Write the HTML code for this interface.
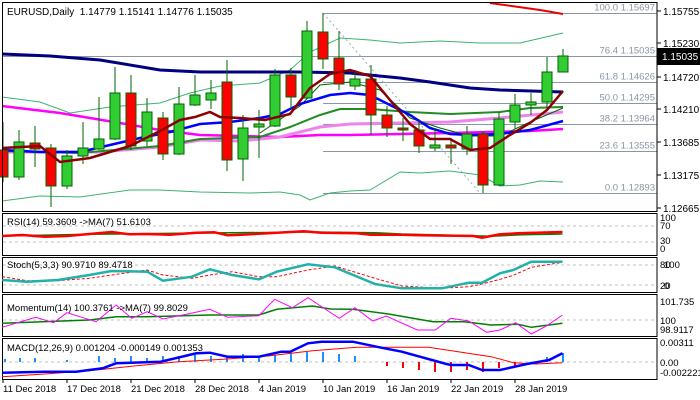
<!DOCTYPE html>
<html><head><meta charset="utf-8"><style>
html,body{margin:0;padding:0;background:#fff;}
svg{display:block;font-family:"Liberation Sans",sans-serif;}
</style></head><body>
<svg id="s" width="700" height="400" xmlns="http://www.w3.org/2000/svg">
<rect width="700" height="400" fill="#fff"/>
<g id="g"></g>
</svg>
<script>
var g=document.getElementById('g');var h='';
function P(pts,col,w,extra){h+='<polyline fill="none" stroke="'+col+'" stroke-width="'+w+'" '+(extra||'')+' points="'+pts.map(function(p){return p[0]+','+p[1]}).join(' ')+'"/>';}
function Z(pts){return pts.map(function(p){return [ (p[0]/2.24).toFixed(1), (p[1]/3+210).toFixed(1)]});}
function T(x,y,t,sz,col,anchor){h+='<text x="'+x+'" y="'+y+'" font-size="'+(sz||10)+'" fill="'+(col||'#000')+'"'+(anchor?' text-anchor="'+anchor+'"':'')+'>'+t+'</text>';}
function L(x1,y1,x2,y2,c,w,d){h+='<line x1="'+x1+'" y1="'+y1+'" x2="'+x2+'" y2="'+y2+'" stroke="'+c+'" stroke-width="'+(w||1)+'"'+(d?' stroke-dasharray="'+d+'"':'')+'/>';}
L(2,56.5,657,56.5,'#8a96a4',1);
var fib=[[13.5,'100.0 1.15697'],[56.5,'76.4 1.15035'],[82.5,'61.8 1.14626'],[103.5,'50.0 1.14295'],[124.5,'38.2 1.13964'],[151.5,'23.6 1.13555'],[193.5,'0.0 1.12893']];
fib.forEach(function(f){L(323,f[0],657,f[0],'#8a96a4',1);T(655,f[0]-3,f[1],9.5,'#8a96a4','end');});
L(323,13,480,193,'#9aa','1','2,3');
P([[2,97],[40,102],[70,113],[110,107],[160,103],[190,93],[220,86],[260,83],[290,70],[310,52],[340,38],[370,40],[400,43],[440,41],[480,43],[520,43],[563,33]],'#3cb371',1);
P([[2,201],[40,196],[80,197],[130,190],[160,190],[200,192],[250,193],[280,192],[300,195],[310,200],[330,193],[350,191],[370,190],[400,172],[420,173],[450,171],[480,175],[500,186],[520,185],[540,181],[563,182]],'#3cb371',1);
P([[490,3],[540,10],[563,14]],'#e00',2);
P([[2,54],[50,56],[100,60],[160,70],[200,72],[260,72],[300,72],[350,73],[400,78],[430,82],[470,88],[500,90],[563,92]],'#000080',3);
P([[2,106],[60,113],[120,123],[160,130],[200,135],[240,136],[280,137],[320,135],[350,135],[400,134],[450,133],[530,131],[563,129]],'#f0f',2.5);
P([[2,152],[100,152],[160,147],[200,140],[240,141],[280,137],[320,127],[350,124],[400,123],[450,122],[500,118],[563,112]],'#ee82ee',3);
P([[2,151],[80,153],[160,146],[200,139],[260,137],[290,127],[320,115],[340,109],[370,109],[410,112],[450,114],[500,112],[530,108],[563,107]],'#228b22',2);
P([[260,133],[300,106],[320,85],[350,82],[380,90],[410,118],[440,128],[470,136],[500,136],[530,122],[563,108]],'#006400',1);
P([[2,150],[40,152],[80,152],[110,145],[140,138],[170,132],[200,124],[230,122],[260,118],[280,114],[300,104],[330,95],[350,93],[370,95],[390,105],[410,115],[430,128],[450,134],[470,135],[500,134],[530,130],[563,121]],'#0000ff',2.5);
var c=[[150,177,122,182,0],[177,142,130,180,1],[143,149,126,167,0],[148,186,144,207,0],[186,156,150,189,1],[156,148,122,164,1],[149,139,97,150,1],[139,93,67,140,1],[93,146,75,150,0],[141,112,98,146,1],[118,154,112,160,0],[154,104,87,155,1],[105,95,75,106,1],[100,93,80,109,1],[82,160,60,171,0],[159,128,115,181,1],[127,124,110,158,1],[126,75,69,127,1],[75,97,68,109,0],[98,31,21,99,1],[32,59,13,69,0],[58,84,31,90,0],[86,79,70,90,1],[79,115,65,135,0],[115,128,106,137,0],[128,130,118,141,0],[130,146,119,153,0],[148,145,128,151,1],[145,148,138,164,0],[149,134,126,155,1],[134,185,131,193,0],[185,119,112,186,1],[122,105,94,129,1],[105,102,93,115,1],[102,72,57,110,1],[72,56,49,72,1]];
var cb='';
c.forEach(function(k,i){var x=3+16*i;var top=Math.min(k[0],k[1]),bot=Math.max(k[0],k[1]);if(bot-top<2)bot=top+2;
cb+='<line x1="'+x+'" y1="'+k[2]+'" x2="'+x+'" y2="'+k[3]+'" stroke="#006400" stroke-width="1"/>';
cb+='<rect x="'+(x-5)+'" y="'+top+'" width="10" height="'+(bot-top)+'" fill="'+(k[4]?'#32cd32':'#ff0000')+'" stroke="#006400" stroke-width="1"/>';});
h+=cb;
P([[2,148],[40,146],[60,162],[90,158],[110,152],[130,146],[160,131],[180,120],[195,117],[210,112],[220,117],[240,118],[265,120],[290,114],[310,88],[330,74],[350,70],[370,76],[390,100],[410,124],[430,139],[450,139],[470,150],[490,148],[510,135],[530,123],[547,110],[563,91]],'#8b0000',2.5);
T(7,15,'EURUSD,Daily&#160;&#160;1.14779 1.15141 1.14776 1.15035',10);
h+='<rect x="2.5" y="2.5" width="654.5" height="209" fill="none" stroke="#000"/>';
[[11,'1.15755'],[43,'1.15230'],[77,'1.14720'],[109,'1.14210'],[142,'1.13685'],[175,'1.13175'],[208,'1.12665']].forEach(function(a){L(657,a[0],661,a[0],'#000');T(663,a[0]+4,a[1],10);});
h+='<rect x="657" y="48" width="43" height="17" fill="#000"/>';T(662,60,'1.15035',10,'#fff');
[[213,255],[257,292],[294,336],[338,379]].forEach(function(p){h+='<rect x="2.5" y="'+(p[0]+.5)+'" width="654.5" height="'+(p[1]-p[0])+'" fill="none" stroke="#000"/>';});
[226,242,265,285,320,362].forEach(function(y){L(3,y,656,y,'#c0c0c0',1,'3,3');});
P(Z([[5,78],[200,73],[400,70],[700,66],[840,68],[900,72],[1060,77],[1100,79],[1170,74],[1260,72]]),'#008000',1.5);
P(Z([[5,78],[50,75],[100,80],[150,78],[200,72],[250,66],[290,73],[330,72],[380,74],[440,68],[480,67],[510,76],[540,74],[600,70],[680,64],[720,68],[800,70],[830,74],[900,74],[940,76],[1060,78],[1080,83],[1120,73],[1160,70],[1260,66]]),'#ff0000',2.5);
T(7,225,'RSI(14) 59.3609 -&gt;MA(7) 51.6103',9.5);
T(660,221,'100',9.5);T(660,229,'70',9.5);T(660,244,'30',9.5);T(660,252,'0',9.5);
var st=[[5,210],[60,215],[130,210],[200,195],[250,183],[330,185],[365,212],[430,200],[470,178],[520,195],[580,208],[620,185],[690,163],[750,172],[840,222],[900,235],[990,235],[1050,218],[1080,218],[1120,190],[1150,180],[1190,155],[1260,155]];
var sd=[[5,200],[60,212],[130,212],[200,205],[250,195],[330,180],[365,195],[430,205],[470,195],[520,185],[580,200],[620,200],[690,180],[750,168],[840,205],[900,228],[990,235],[1050,230],[1080,222],[1120,208],[1150,196],[1190,172],[1260,157]];
P(Z(sd),'#ff0000',1,'stroke-dasharray="3,2"');
P(Z(st),'#20b2aa',2.5);
T(7,268,'Stoch(5,3,3) 90.9710 89.4718',9.5);
T(660,268,'80',9.5);T(664,268,'100',9.5);T(660,289,'20',9.5);T(664,289,'0',9.5);
P(Z([[5,340],[200,330],[260,320],[330,320],[470,315],[580,315],[620,298],[700,288],[740,297],[790,298],[870,312],[970,335],[1040,335],[1100,345],[1160,343],[1190,352],[1260,340]]),'#008000',1.5);
P(Z([[5,352],[80,322],[120,338],[150,308],[215,335],[260,285],[295,325],[330,305],[365,327],[420,312],[470,298],[510,322],[580,317],[615,268],[655,293],[690,263],[760,325],[795,293],[835,333],[865,318],[935,360],[975,360],[1010,325],[1050,333],[1090,367],[1120,360],[1155,338],[1190,372],[1225,347],[1260,315]]),'#ff00ff',1);
T(7,311,'Momentum(14) 100.3761 -&gt;MA(7) 99.8029',9.5);
T(660,305,'101.735',9.5);T(660,324,'100',9.5);T(660,333,'98.9117',9.5);
var hv=[[5,-3],[20,-4],[35,-4],[67,-2],[99,-6],[115,-4],[131,-6],[147,-4],[163,-6],[179,-6],[195,-8],[211,-6],[227,-6],[243,-8],[259,-6],[275,-7],[291,-9],[307,-10],[323,-10],[339,-8],[355,-6],[371,0],[387,4],[403,6],[419,8],[435,10],[451,10],[467,8],[483,10],[499,6],[515,4],[531,2],[547,-5],[563,-9]];
hv.forEach(function(v){L(v[0],362,v[0],362+v[1],v[1]<0?'#1e90ff':'#ff0000',2);});
P(Z([[5,500],[100,492],[200,482],[300,468],[400,455],[500,448],[600,438],[700,422],[800,412],[850,412],[960,412],[1100,440],[1150,458],[1200,462],[1260,458]]),'#ff0000',1);
P(Z([[5,488],[100,485],[170,485],[230,475],[260,460],[360,455],[440,430],[470,428],[510,440],[580,440],[630,425],[650,425],[690,400],[720,395],[790,395],[850,412],[900,425],[1000,462],[1010,465],[1050,465],[1080,480],[1120,480],[1180,462],[1230,450],[1260,430]]),'#0000ff',2.5);
T(7,351,'MACD(12,26,9) 0.001204 -0.000149 0.001353',9.5);
T(660,346,'0.00311',9.5);T(660,366,'0.00',9.5);T(660,376,'-0.002221',9.5);
[[3,'11 Dec 2018'],[67,'17 Dec 2018'],[131,'21 Dec 2018'],[195,'28 Dec 2018'],[259,'4 Jan 2019'],[323,'10 Jan 2019'],[387,'16 Jan 2019'],[451,'22 Jan 2019'],[515,'28 Jan 2019']].forEach(function(d){L(d[0],379,d[0],383,'#000');T(d[0],392,d[1],9.5);});
g.innerHTML=h;
</script>
</body></html>
